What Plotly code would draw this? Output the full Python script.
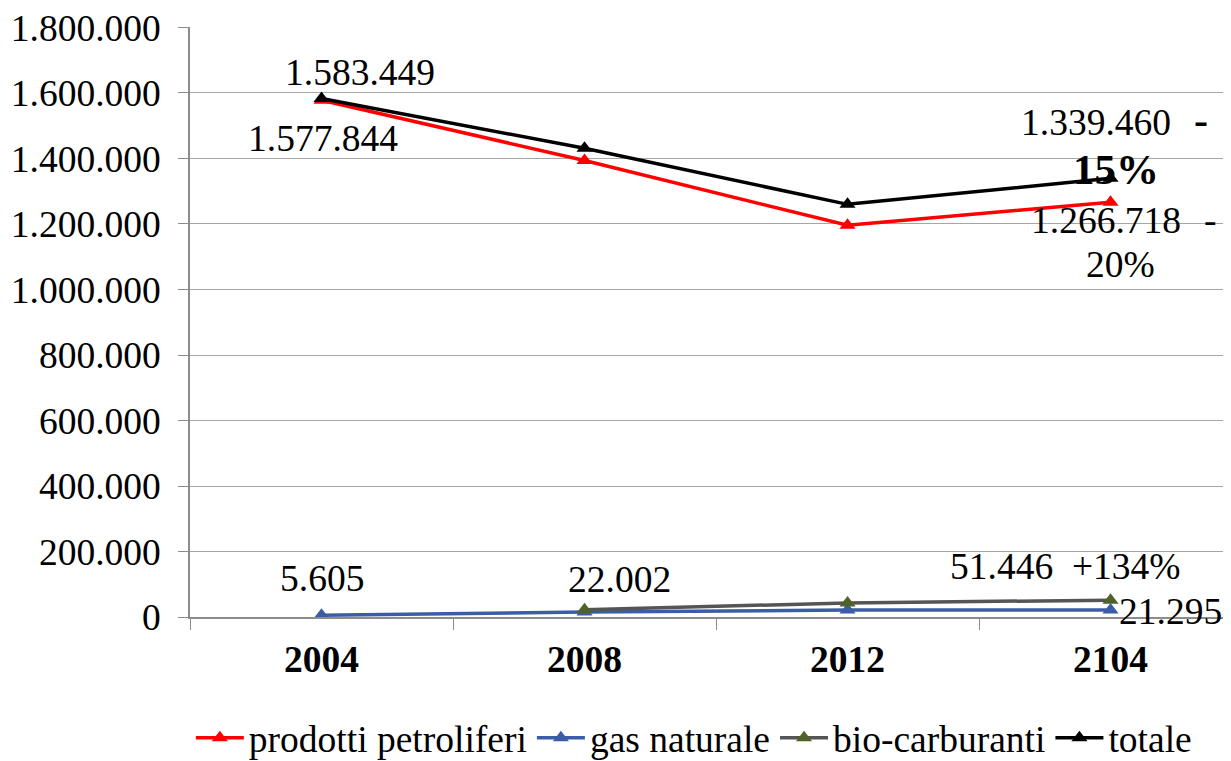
import plotly.graph_objects as go

years = ["2004", "2008", "2012", "2104"]
prodotti = [1577844, 1394000, 1196000, 1266718]
gas = [5605, 15000, 21000, 21295]
bio = [None, 22002, 43000, 51446]
totale = [1583449, 1431000, 1260000, 1339460]
y_ticks = [0, 200000, 400000, 600000, 800000, 1000000, 1200000, 1400000, 1600000, 1800000]
pct_totale = "-15%"
pct_prodotti = "-20%"
pct_bio = "+134%"

FONT = "Liberation Serif"
FS = 37.5

def fmt(v):
    return f"{v:,}".replace(",", ".")

fig = go.Figure()
series = [
    ("prodotti petroliferi", prodotti, "#FF0000", "#FF0000"),
    ("gas naturale", gas, "#3A5DA5", "#3A5DA5"),
    ("bio-carburanti", bio, "#555555", "#4F6228"),
    ("totale", totale, "#000000", "#000000"),
]
for name, vals, lc, mc in series:
    fig.add_trace(go.Scatter(
        x=years, y=vals, name=name, mode="lines+markers",
        line=dict(color=lc, width=3.5),
        marker=dict(symbol="triangle-up", size=14, color=mc),
        connectgaps=False,
    ))

def add(i, y, text, xs, ys, size=FS, bold=False):
    t = f"<b>{text}</b>" if bold else text
    fig.add_annotation(x=i, y=y, xref="x", yref="y", text=t, showarrow=False,
                       xshift=xs, yshift=ys, font=dict(family=FONT, size=size, color="black"))

add(0, totale[0], fmt(totale[0]), 38, 26)
add(0, prodotti[0], fmt(prodotti[0]), 1, -38)
add(0, gas[0], fmt(gas[0]), 0, 37)
add(1, bio[1], fmt(bio[1]), 35, 30)
add(3, bio[3], fmt(bio[3]) + "  " + pct_bio, -45, 34)
add(3, gas[3], fmt(gas[3]), 60, -1)
add(3, totale[3], fmt(totale[3]), -15, 56)
add(3, totale[3], pct_totale[0], 90, 58, size=42, bold=True)
add(3, totale[3], pct_totale[1:], 5, 9, size=43, bold=True)
add(3, prodotti[3], fmt(prodotti[3]), -5, -18)
add(3, prodotti[3], pct_prodotti[0], 100, -18)
add(3, prodotti[3], pct_prodotti[1:], 10, -62)

fig.update_layout(
    width=1223, height=753,
    margin=dict(l=182, r=0, t=19, b=144, autoexpand=False),
    paper_bgcolor="white", plot_bgcolor="white",
    separators=",.",
    font=dict(family=FONT, size=FS, color="black"),
    showlegend=True,
    legend=dict(orientation="h", x=0.484, xanchor="center", y=-0.205, yanchor="middle",
                font=dict(family=FONT, size=FS, color="black"), itemwidth=48,
                tracegroupgap=0),
    xaxis=dict(type="category", range=[-0.5, 3.458], showline=True, linecolor="#8C8C8C",
               linewidth=1.5, ticks="outside", tickson="boundaries", ticklen=11,
               tickcolor="#8C8C8C", showgrid=False, automargin=False,
               tickfont=dict(family=FONT, size=FS, color="black"), ticklabelstandoff=8,
               tickvals=years, ticktext=[f"<b>{y}</b>" for y in years]),
    yaxis=dict(range=[0, 1801500], tickvals=y_ticks, ticktext=[fmt(v) for v in y_ticks],
               showline=True, linecolor="#8C8C8C", linewidth=1.5, ticks="outside", ticklen=10,
               tickcolor="#8C8C8C", showgrid=True, gridcolor="#A6A6A6", gridwidth=1.2,
               zeroline=False, automargin=False, ticklabeloverflow="allow",
               ticklabelstandoff=10,
               tickfont=dict(family=FONT, size=FS, color="black")),
)

fig.write_html("out.html")
